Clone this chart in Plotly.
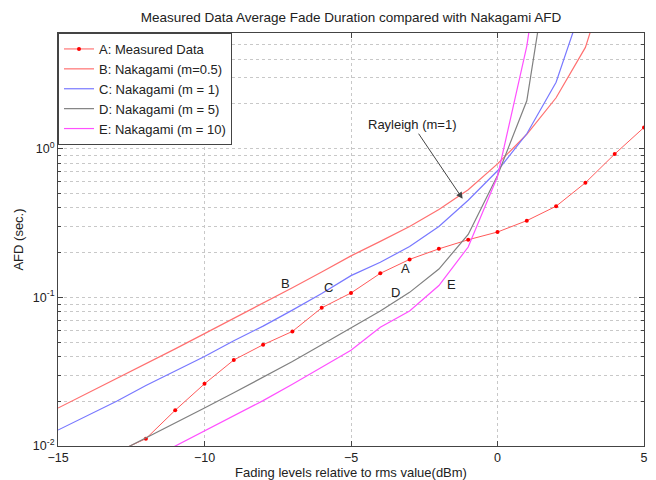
import math
import plotly.graph_objects as go

# ---- data ----
levels_a = [-13, -12, -11, -10, -9, -8, -7, -6, -5, -4, -3, -2, -1, 0, 1, 2, 3, 4, 5]
afd_a = [0.0091, 0.0112, 0.0174, 0.0262, 0.0379, 0.048, 0.059, 0.085, 0.107, 0.145,
         0.18, 0.212, 0.244, 0.275, 0.328, 0.41, 0.59, 0.92, 1.39]

levels_b = [-15, -14, -13, -12, -11, -10, -9, -8, -7, -6, -5, -4, -3, -2, -1, 0, 1, 2, 3, 4]
afd_b = [0.018, 0.0226, 0.0285, 0.036, 0.045, 0.057, 0.072, 0.091, 0.116, 0.148,
         0.19, 0.238, 0.30, 0.39, 0.53, 0.79, 1.25, 2.2, 4.8, 20.0]

levels_c = [-15, -14, -13, -12, -11, -10, -9, -8, -7, -6, -5, -4, -3, -2, -1, 0, 1, 2, 3]
afd_c = [0.0128, 0.016, 0.020, 0.0255, 0.032, 0.040, 0.051, 0.064, 0.082, 0.106,
         0.14, 0.172, 0.22, 0.30, 0.45, 0.71, 1.26, 2.8, 10.7]

levels_d = [-13, -12, -11, -10, -9, -8, -7, -6, -5, -4, -3, -2, -1, 0, 1, 2]
afd_d = [0.009, 0.0113, 0.0143, 0.018, 0.0228, 0.029, 0.037, 0.048, 0.062, 0.081,
         0.108, 0.155, 0.265, 0.66, 2.1, 37.0]

levels_e = [-12, -11, -10, -9, -8, -7, -6, -5, -4, -3, -2, -1, 0, 1, 2]
afd_e = [0.0079, 0.0100, 0.0127, 0.0161, 0.0202, 0.026, 0.034, 0.044, 0.063, 0.081,
         0.12, 0.218, 0.65, 4.9, 100.0]

series_names = ["A: Measured Data", "B: Nakagami (m=0.5)", "C: Nakagami (m = 1)",
                "D: Nakagami (m = 5)", "E: Nakagami (m = 10)"]

FONT = "Liberation Sans, Arial, sans-serif"
GRID = "#c8c8c8"
INK = "#222"

fig = go.Figure()
fig.add_trace(go.Scatter(x=levels_a, y=afd_a, name=series_names[0], mode="lines+markers",
                         line=dict(color="#ff5a5a", width=1),
                         marker=dict(color="#ff0000", size=4)))
fig.add_trace(go.Scatter(x=levels_b, y=afd_b, name=series_names[1], mode="lines",
                         line=dict(color="#ff7070", width=1.2)))
fig.add_trace(go.Scatter(x=levels_c, y=afd_c, name=series_names[2], mode="lines",
                         line=dict(color="#7878ff", width=1.2)))
fig.add_trace(go.Scatter(x=levels_d, y=afd_d, name=series_names[3], mode="lines",
                         line=dict(color="#808080", width=1.2)))
fig.add_trace(go.Scatter(x=levels_e, y=afd_e, name=series_names[4], mode="lines",
                         line=dict(color="#ff50ff", width=1.2)))

# curve labels
for txt, xx, yy in [("B", -7.25, 0.124), ("C", -5.77, 0.117), ("A", -3.14, 0.157),
                    ("D", -3.48, 0.108), ("E", -1.57, 0.122)]:
    fig.add_annotation(x=xx, y=math.log10(yy), text=txt, showarrow=False,
                       font=dict(family=FONT, size=13, color=INK))

fig.add_annotation(x=-1.19, y=math.log10(0.46), ax=-2.9, ay=math.log10(1.45),
                   axref="x", ayref="y", text="Rayleigh (m=1)", showarrow=True,
                   arrowhead=2, arrowsize=1.3, arrowwidth=1, arrowcolor="#444",
                   font=dict(family=FONT, size=13, color=INK))

fig.update_layout(
    width=656, height=480,
    margin=dict(l=58, r=12, t=33, b=34),
    paper_bgcolor="white", plot_bgcolor="white",
    font=dict(family=FONT, size=12, color=INK),
    title=dict(text="Measured Data Average Fade Duration compared with Nakagami AFD",
               x=0.5, xref="paper", y=1 - 17 / 480, yref="container", yanchor="middle",
               font=dict(family=FONT, size=13.5, color=INK)),
    showlegend=True,
    legend=dict(x=0, y=1, xanchor="left", yanchor="top", bgcolor="white",
                bordercolor="#444", borderwidth=1, itemwidth=30,
                font=dict(family=FONT, size=13, color=INK),
                tracegroupgap=0),
)
fig.update_xaxes(range=[-15, 5], dtick=5, tick0=-15, ticks="inside", ticklen=5,
                 tickcolor="#444", showline=True, linecolor="#444", linewidth=1, mirror="ticks",
                 showgrid=True, gridcolor=GRID, griddash="dot", zeroline=False,
                 automargin=False,
                 title=dict(text="Fading levels relative to rms value(dBm)", standoff=1,
                            font=dict(family=FONT, size=13)),
                 tickfont=dict(family=FONT, size=12.5))
fig.update_yaxes(type="log", range=[-2, math.log10(6)],
                 tickvals=[0.01, 0.1, 1], ticktext=["10<sup>-2</sup>", "10<sup>-1</sup>", "10<sup>0</sup>"],
                 ticks="inside", ticklen=5, tickcolor="#444",
                 showline=True, linecolor="#444", linewidth=1, mirror="ticks",
                 showgrid=True, gridcolor=GRID, griddash="dot", zeroline=False,
                 automargin=False,
                 minor=dict(tickvals=[m * 10 ** e for e in (-2, -1, 0) for m in range(2, 10)],
                            ticks="inside", ticklen=3, tickcolor="#444",
                            showgrid=True, gridcolor=GRID, griddash="dot"),
                 title=dict(text="AFD (sec.)", standoff=6, font=dict(family=FONT, size=13)),
                 tickfont=dict(family=FONT, size=12.5))

fig.write_html("out.html", config={"displayModeBar": False},
               post_script="document.body.style.margin='0';")
